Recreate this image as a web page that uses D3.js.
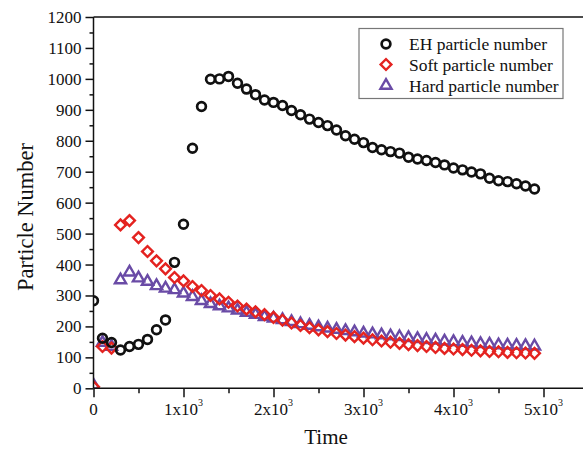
<!DOCTYPE html>
<html>
<head>
<meta charset="utf-8">
<script src="https://cdn.jsdelivr.net/npm/d3@7/dist/d3.min.js"></script>
<style>
  html, body { margin: 0; padding: 0; background: #fff; }
  svg { display: block; }
  text { font-family: "Liberation Serif", "Times New Roman", serif; fill: #111; }
</style>
</head>
<body>
<svg id="chart" width="583" height="450"></svg>
<script>
const times = [0,100,200,300,400,500,600,700,800,900,1000,1100,1200,1300,1400,1500,1600,1700,1800,1900,
  2000,2100,2200,2300,2400,2500,2600,2700,2800,2900,3000,3100,3200,3300,3400,3500,3600,3700,3800,3900,
  4000,4100,4200,4300,4400,4500,4600,4700,4800,4900];
const ehValues = [283,162,148,124,135,142,158,189,221,407,530,776,911,999,1000,1008,986,967,949,932,
  924,914,898,884,870,859,849,835,816,805,794,778,771,765,760,747,741,736,730,722,
  712,706,699,693,679,671,668,661,654,644];
const softValues = [5,135,130,528,542,487,442,412,386,358,347,329,316,300,289,278,266,256,247,238,
  229,220,211,203,196,189,183,177,172,167,162,157,153,149,145,141,138,135,132,129,
  127,125,123,121,119,118,116,115,114,113];
const hardValues = [10,148,135,350,375,356,345,331,323,318,307,296,283,273,266,259,252,245,238,231,
  226,221,215,208,203,198,194,190,186,182,178,175,172,169,166,163,160,157,155,152,
  150,148,146,144,142,140,139,138,137,136];
const seriesNames = ["EH particle number", "Soft particle number", "Hard particle number"];
const xTickValues = [0,1000,2000,3000,4000,5000];
const xTickMantissa = ["0","1x10","2x10","3x10","4x10","5x10"];
const yTickValues = [0,100,200,300,400,500,600,700,800,900,1000,1100,1200];

const FONT = '"Liberation Serif", "Times New Roman", serif';
const svg = d3.select("#chart");
const mLeft = 93.5, mRight = 588.5, mTop = 17, mBottom = 388.3;
const x = d3.scaleLinear().domain([0, 5500]).range([mLeft, mRight]);
const y = d3.scaleLinear().domain([0, 1200]).range([mBottom, mTop]);

const colors = ["#111111", "#e42320", "#6a4ba6"];

svg.append("defs").append("clipPath").attr("id", "plotclip")
  .append("rect").attr("x", mLeft).attr("y", mTop).attr("width", mRight - mLeft).attr("height", mBottom - mTop);

// frame
svg.append("line").attr("x1", mLeft).attr("x2", 583).attr("y1", mTop).attr("y2", mTop)
  .attr("stroke", "#111").attr("stroke-width", 1.5);
svg.append("line").attr("x1", mRight).attr("x2", mRight).attr("y1", mTop).attr("y2", mBottom)
  .attr("stroke", "#111").attr("stroke-width", 1.5);

// markers (clipped to plot area)
const sym = [
  d3.symbol().type(d3.symbolCircle).size(60),
  d3.symbol().type(d3.symbolSquare).size(58),
  d3.symbol().type(d3.symbolTriangle).size(54)
];
const rot = [0, 45, 0];
const allSeries = [ehValues, softValues, hardValues];
const plot = svg.append("g").attr("clip-path", "url(#plotclip)");
[2, 1, 0].forEach(si => {
  plot.append("g").selectAll("path").data(times).join("path")
    .attr("d", sym[si]())
    .attr("transform", (t, i) => `translate(${x(t)},${y(allSeries[si][i])}) rotate(${rot[si]})`)
    .attr("fill", "none").attr("stroke", colors[si]).attr("stroke-width", si === 0 ? 2.7 : 2.4);
});

// x axis
const xAxis = d3.axisBottom(x).tickValues(xTickValues).tickSize(9).tickFormat("");
const gx = svg.append("g").attr("transform", `translate(0,${mBottom})`).call(xAxis);
gx.select(".domain").attr("stroke", "#111").attr("stroke-width", 1.5).attr("d", `M${mLeft},0H${mRight}`);
gx.selectAll(".tick line").attr("stroke", "#111").attr("stroke-width", 1.5);
const gxMinor = svg.append("g").attr("transform", `translate(0,${mBottom})`)
  .call(d3.axisBottom(x).tickValues([500,1500,2500,3500,4500]).tickSize(5).tickFormat(""));
gxMinor.select(".domain").remove();
gxMinor.selectAll(".tick line").attr("stroke", "#111").attr("stroke-width", 1.5);

xTickValues.forEach((v, i) => {
  const t = svg.append("text").attr("y", mBottom + 27).style("font-family", FONT).style("font-size", "17px");
  t.append("tspan").text(xTickMantissa[i]);
  if (i > 0) t.append("tspan").style("font-size", "10px").attr("dy", -9).text("3");
  const w = t.node().getComputedTextLength();
  t.attr("x", x(v) - w / 2);
});

// y axis
const yAxis = d3.axisLeft(y).tickValues(yTickValues).tickSize(8).tickFormat("");
const gy = svg.append("g").attr("transform", `translate(${mLeft},0)`).call(yAxis);
gy.select(".domain").attr("stroke", "#111").attr("stroke-width", 1.5).attr("d", `M0,${mBottom}V${mTop}`);
gy.selectAll(".tick line").attr("stroke", "#111").attr("stroke-width", 1.5);
const yMinor = d3.range(50, 1200, 100);
const gyMinor = svg.append("g").attr("transform", `translate(${mLeft},0)`)
  .call(d3.axisLeft(y).tickValues(yMinor).tickSize(4).tickFormat(""));
gyMinor.select(".domain").remove();
gyMinor.selectAll(".tick line").attr("stroke", "#111").attr("stroke-width", 1.5);

svg.append("g").selectAll("text").data(yTickValues).join("text")
  .attr("x", 81.5).attr("y", d => y(d) + 6)
  .attr("text-anchor", "end")
  .style("font-family", FONT).style("font-size", "17px")
  .text(d => String(d));

// titles
svg.append("text").attr("x", 326).attr("y", 444).attr("text-anchor", "middle")
  .style("font-family", FONT).style("font-size", "21px").text("Time");
svg.append("text").attr("transform", "translate(33,217) rotate(-90)").attr("text-anchor", "middle")
  .style("font-family", FONT).style("font-size", "22.5px").text("Particle Number");

// legend
const lg = svg.append("g");
lg.append("rect").attr("x", 359).attr("y", 28.5).attr("width", 204).attr("height", 70)
  .attr("fill", "#fff").attr("stroke", "#777").attr("stroke-width", 1.2);
const rowsY = [44, 64.5, 85.5];
seriesNames.forEach((name, i) => {
  lg.append("path").attr("d", sym[i]())
    .attr("transform", `translate(386,${rowsY[i]}) rotate(${rot[i]})`)
    .attr("fill", "none").attr("stroke", colors[i]).attr("stroke-width", i === 0 ? 2.7 : 2.4);
  lg.append("text").attr("x", 409).attr("y", rowsY[i] + 6)
    .style("font-family", FONT).style("font-size", "17.5px").text(name);
});
</script>
</body>
</html>
